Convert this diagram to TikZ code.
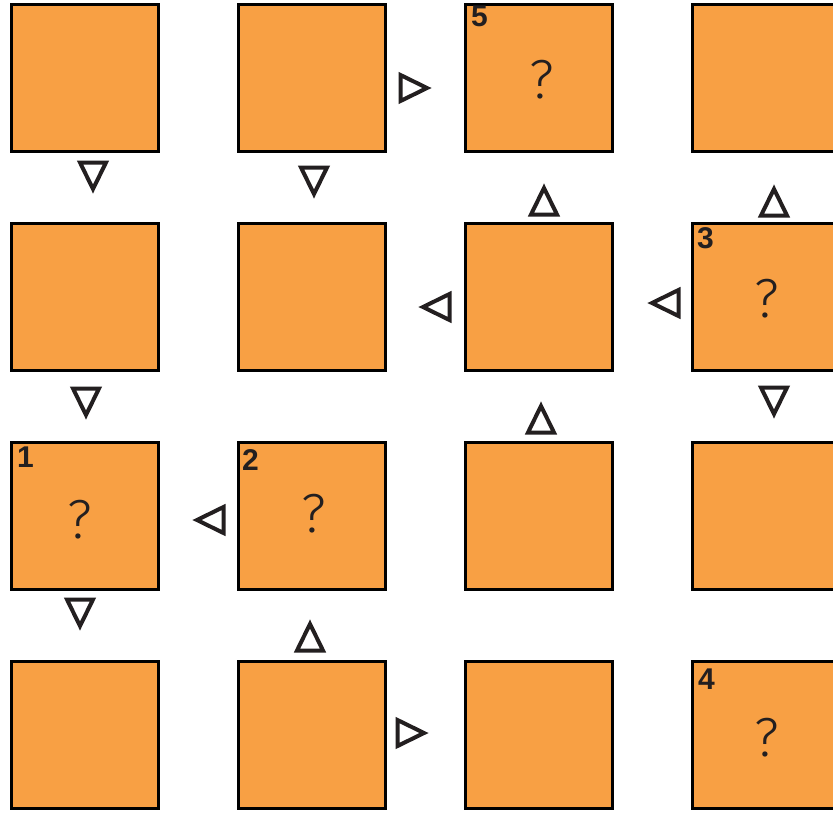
\documentclass[tikz,border=0pt]{standalone}
\usepackage{fontspec}
\setmainfont{Liberation Sans}
\newfontfamily\queryfont{Fira Sans}[UprightFont=* Light]
\usepackage{xcolor}
\usepackage{tikz}
\usetikzlibrary{positioning}

\definecolor{boxorange}{RGB}{248,160,68}
\definecolor{markdark}{RGB}{35,31,32}

\tikzset{
  cell/.style={draw=black, fill=boxorange, line width=3pt, minimum size=147pt, inner sep=0pt},
  marker/.style={draw=markdark, line width=4pt, line join=miter},
  cellnum/.style={anchor=north west, inner sep=0pt, text=markdark, font=\bfseries\fontsize{30}{30}\selectfont},
  query/.style={inner sep=0pt, text=markdark, font=\queryfont\fontsize{55}{55}\selectfont}
}

\begin{document}
\begin{tikzpicture}[x=1pt, y=-1pt]
\useasboundingbox (0,0) rectangle (833,812);
\clip (0,0) rectangle (833,812);

% Grid of cells
\foreach \r in {0,...,3}
  \foreach \c in {0,...,3}
    \node[cell] (cell-\r-\c) at (85+227*\c, 78+219*\r) {};

% Numbered cells
\node[cellnum] (num-5) at ([shift={(7,3)}]cell-0-2.north west) {5};
\node[cellnum] (num-3) at ([shift={(6,5)}]cell-1-3.north west) {3};
\node[cellnum] (num-1) at ([shift={(7,6)}]cell-2-0.north west) {1};
\node[cellnum] (num-2) at ([shift={(5,8)}]cell-2-1.north west) {2};
\node[cellnum] (num-4) at ([shift={(7,9)}]cell-3-3.north west) {4};

% Unknown cells
\node[query] (q-5) at ([shift={(3,2)}]cell-0-2) {?};
\node[query] (q-3) at ([shift={(1,2)}]cell-1-3) {?};
\node[query] (q-1) at ([shift={(-5,4)}]cell-2-0) {?};
\node[query] (q-2) at ([shift={(2,-2)}]cell-2-1) {?};
\node[query] (q-4) at ([shift={(1,3)}]cell-3-3) {?};

% Direction markers (0 up, 180 down, 90 left, -90 right)
\foreach \x/\y/\a in {93/177/180, 314/182/180, 415/88/-90, 544/200/0, 774/201/0,
                      435/307/90, 664/303/90, 86/403/180, 541/418/0, 774/402/180,
                      209/520/90, 80/614/180, 310/636/0, 412/733/-90}
  \draw[marker, shift={(\x,\y)}, rotate=\a] (-13,14.5) -- (0,-12) -- (13,14.5) -- cycle;

\end{tikzpicture}
\end{document}
